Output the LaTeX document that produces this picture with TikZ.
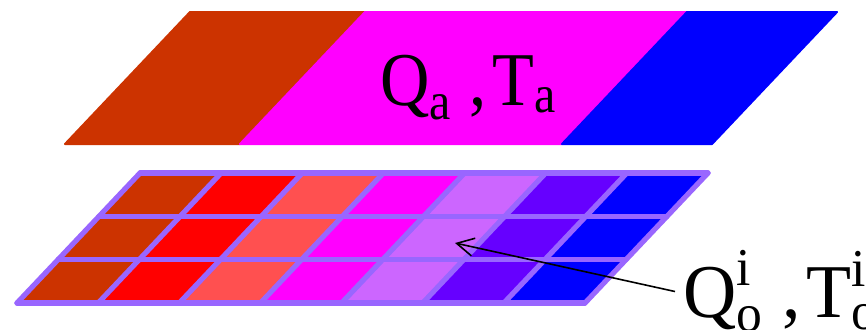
\documentclass[tikz,border=0pt]{standalone}
\usepackage{amsmath}
\usepackage{graphicx}
\usepackage{fontspec}
\setmainfont{Liberation Serif}
\usetikzlibrary{arrows.meta,calc}
\definecolor{rust}{HTML}{CC3300}
\definecolor{pureRed}{HTML}{FF0000}
\definecolor{salmon}{HTML}{FF5050}
\definecolor{fuchsia}{HTML}{FF00FF}
\definecolor{lilac}{HTML}{CC66FF}
\definecolor{deepviolet}{HTML}{6600FF}
\definecolor{pureBlue}{HTML}{0000FF}
\definecolor{gridline}{HTML}{9966FF}
\tikzset{
  >={Straight Barb[length=8.5pt,width=9pt]},
  band/.style={fill=#1, draw=#1, line width=1pt, line join=round},
  gridrule/.style={draw=gridline, line width=2.6pt, line join=round, line cap=round},
  biglabel/.style={inner ysep=0pt, inner xsep=4pt, font=\fontsize{38pt}{40pt}\selectfont},
}
\newcommand{\pairsep}{\hspace{0.26em}\text{,}\hspace{0.08em}}

\begin{document}
\begin{tikzpicture}[x=0.5pt, y=-0.5pt]
    \useasboundingbox (0,0) rectangle (866,329);
    \clip (0,0) rectangle (866,329);

    % upper layer
    \path[band=rust]     (190,12) -- (365,12) -- (240,144) -- (65,144)  -- cycle;
    \path[band=fuchsia]  (365,12) -- (687,12) -- (562,144) -- (240,144) -- cycle;
    \path[band=pureBlue] (687,12) -- (837,12) -- (712,144) -- (562,144) -- cycle;
    \node[biglabel, anchor=base west] (air) at (372,105)
      {\scalebox{0.9}[1]{$\text{Q}_{\text{a}}\pairsep\text{T}_{\text{a}}$}};

    % lower layer: 7 x 3 cells
    \coordinate (grid) at (140,173);
    \foreach \c [count=\i from 0] in {rust,pureRed,salmon,fuchsia,lilac,deepviolet,pureBlue} {
      \foreach \j in {0,1,2} {
        \fill[\c] ($(grid)+(\i*81.14-\j*41,\j*43.33)$)
          -- ++(81.14,0) -- ++(-41,43.33) -- ++(-81.14,0) -- cycle;
      }
    }
    \foreach \j in {0,...,3}
      \draw[gridrule] ($(grid)+(-\j*41,\j*43.33)$) -- ++(568,0);
    \foreach \i in {0,...,7}
      \draw[gridrule] ($(grid)+(\i*81.14,0)$) -- ++(-123,130);

    \node[biglabel, anchor=base west] (cell) at (675,317)
      {\scalebox{0.97}[1]{$\text{Q}^{\text{i}}_{\text{o}}\pairsep\text{T}^{\text{i}}_{\text{o}}$}};
    \coordinate (pick) at (455,243);
    \draw[->, line width=0.8pt] (cell.west) -- (pick);
\end{tikzpicture}
\end{document}
